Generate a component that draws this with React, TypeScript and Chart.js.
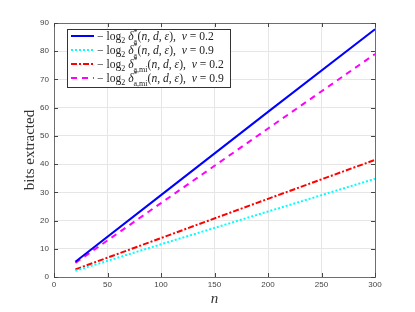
import React, { useEffect, useRef } from "react";
import { Chart, registerables } from "chart.js";
Chart.register(...registerables);

const nValues = [20, 100, 200, 300];
const seriesA02 = [5.4, 29.0, 58.5, 87.8];
const seriesA09 = [2.2, 11.6, 23.2, 34.8];
const seriesAmi02 = [2.7, 13.8, 27.7, 41.5];
const seriesAmi09 = [5.0, 26.2, 52.6, 79.0];
const xTicks = [0, 50, 100, 150, 200, 250, 300];
const yTicks = [0, 10, 20, 30, 40, 50, 60, 70, 80, 90];
const nuLabels = ["0.2", "0.9", "0.2", "0.9"];
const subLabels = ["a", "a", "a,mi", "a,mi"];
const colors = ["#0000ff", "#00ffff", "#ff0000", "#ff00ff"];
const dashes: number[][] = [[], [2, 2], [6, 2, 2, 2], [6, 5]];
const xTitle = "n";
const yTitle = "bits extracted";

const SERIF = "'Liberation Serif', 'DejaVu Serif', serif";
const SANS = "'Liberation Sans', Arial, sans-serif";

type Part = { t: string; it?: boolean; size?: number; dy?: number; stack?: Part[] };

function drawRich(ctx: CanvasRenderingContext2D, x: number, y: number, parts: Part[], base: number) {
  let cx = x;
  for (const p of parts) {
    if (p.stack) {
      let w = 0;
      for (const s of p.stack) {
        ctx.font = `${s.it ? "italic " : ""}${s.size ?? base}px ${SERIF}`;
        ctx.fillText(s.t, cx, y + (s.dy ?? 0));
        w = Math.max(w, ctx.measureText(s.t).width);
      }
      cx += w;
    } else {
      ctx.font = `${p.it ? "italic " : ""}${p.size ?? base}px ${SERIF}`;
      ctx.fillText(p.t, cx, y + (p.dy ?? 0));
      cx += ctx.measureText(p.t).width;
    }
  }
}

function legendParts(i: number): Part[] {
  return [
    { t: "\u2212 log" },
    { t: "2", size: 8, dy: 3 },
    { t: " " },
    { t: "\u03b4", it: true },
    { t: "", stack: [{ t: "*", size: 8, dy: -5 }, { t: subLabels[i], size: 8, dy: 3.5 }] },
    { t: "(" },
    { t: "n", it: true },
    { t: ", " },
    { t: "d", it: true },
    { t: ", " },
    { t: "\u03b5", it: true },
    { t: "),  " },
    { t: "\u03bd", it: true },
    { t: " = " + nuLabels[i] },
  ];
}

const framePlugin = {
  id: "framePlugin",
  afterDraw(chart: any) {
    const ctx: CanvasRenderingContext2D = chart.ctx;
    const { left, right, top, bottom } = chart.chartArea;
    const xs = chart.scales.x;
    const ys = chart.scales.y;
    ctx.save();
    ctx.strokeStyle = "#6e6e6e";
    ctx.lineWidth = 1;
    ctx.setLineDash([]);
    ctx.strokeRect(Math.round(left) + 0.5, Math.round(top) + 0.5, Math.round(right - left), Math.round(bottom - top));
    ctx.strokeStyle = "#444";
    ctx.beginPath();
    for (const v of xTicks) {
      const px = Math.round(xs.getPixelForValue(v)) + 0.5;
      ctx.moveTo(px, bottom);
      ctx.lineTo(px, bottom - 4);
      ctx.moveTo(px, top);
      ctx.lineTo(px, top + 4);
    }
    for (const v of yTicks) {
      const py = Math.round(ys.getPixelForValue(v)) + 0.5;
      ctx.moveTo(left, py);
      ctx.lineTo(left + 4, py);
      ctx.moveTo(right, py);
      ctx.lineTo(right - 4, py);
    }
    ctx.stroke();

    // axis titles
    ctx.fillStyle = "#333";
    ctx.textAlign = "center";
    ctx.textBaseline = "middle";
    ctx.font = `15px ${SERIF}`;
    ctx.save();
    ctx.translate(30, (top + bottom) / 2);
    ctx.rotate(-Math.PI / 2);
    ctx.fillText(yTitle, 0, 0);
    ctx.restore();
    ctx.font = `italic 15px ${SERIF}`;
    ctx.fillText(xTitle, (left + right) / 2, 299);

    // legend
    const lx = 67, ly = 29, lw = 163, lh = 58;
    ctx.fillStyle = "#fff";
    ctx.fillRect(lx, ly, lw, lh);
    ctx.strokeStyle = "#333";
    ctx.lineWidth = 1;
    ctx.strokeRect(lx + 0.5, ly + 0.5, lw, lh);
    const rows = [36, 50, 64, 78];
    ctx.textAlign = "left";
    ctx.textBaseline = "alphabetic";
    for (let i = 0; i < 4; i++) {
      ctx.strokeStyle = colors[i];
      ctx.lineWidth = 2;
      ctx.setLineDash(dashes[i]);
      ctx.beginPath();
      ctx.moveTo(71, rows[i]);
      ctx.lineTo(94, rows[i]);
      ctx.stroke();
      ctx.setLineDash([]);
      ctx.fillStyle = "#222";
      drawRich(ctx, 97, rows[i] + 4, legendParts(i), 11.6);
    }
    ctx.restore();
  },
};

export default function App() {
  const ref = useRef<HTMLCanvasElement>(null);
  useEffect(() => {
    document.body.style.margin = "0";
    const mk = (ys: number[]) => nValues.map((x, i) => ({ x, y: ys[i] }));
    const data = [seriesA02, seriesA09, seriesAmi02, seriesAmi09];
    const chart = new Chart(ref.current!, {
      type: "line",
      data: {
        datasets: data.map((d, i) => ({
          data: mk(d),
          borderColor: colors[i],
          borderWidth: 2,
          borderDash: dashes[i],
          pointRadius: 0,
          tension: 0,
          fill: false,
        })),
      },
      options: {
        responsive: false,
        animation: false,
        layout: { padding: { top: 23, right: 40, left: 0, bottom: 0 } },
        plugins: { legend: { display: false }, tooltip: { enabled: false } },
        scales: {
          x: {
            type: "linear",
            min: 0,
            max: 300,
            afterBuildTicks: (s: any) => { s.ticks = xTicks.map((v) => ({ value: v })); },
            afterFit: (s: any) => { s.height = 35; },
            grid: { color: "#e6e6e6", drawTicks: false },
            border: { display: false },
            ticks: { color: "#444", padding: 3, font: { family: SANS, size: 8 }, maxRotation: 0 },
          },
          y: {
            type: "linear",
            min: 0,
            max: 90,
            afterBuildTicks: (s: any) => { s.ticks = yTicks.map((v) => ({ value: v })); },
            afterFit: (s: any) => { s.width = 54; },
            grid: { color: "#e6e6e6", drawTicks: false },
            border: { display: false },
            ticks: { color: "#444", padding: 5, font: { family: SANS, size: 8 } },
          },
        },
      },
      plugins: [framePlugin],
    } as any);
    return () => chart.destroy();
  }, []);
  return <canvas ref={ref} width={415} height={312} style={{ display: "block" }} />;
}
